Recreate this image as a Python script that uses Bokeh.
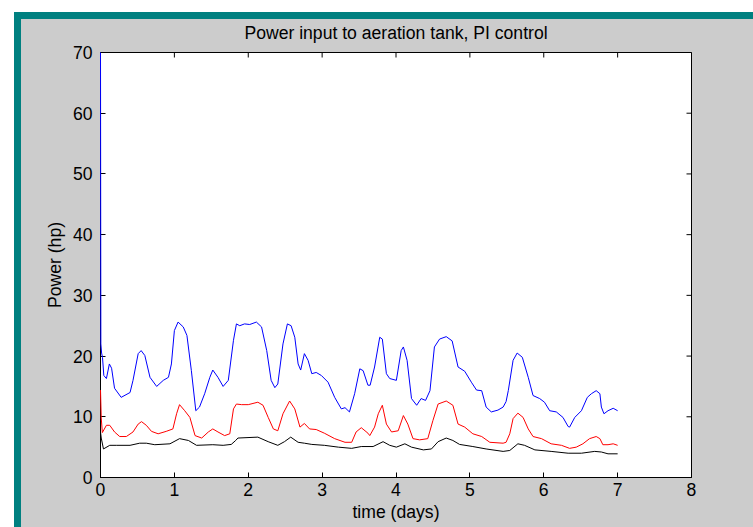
import math
from bokeh.plotting import figure
from bokeh.models import FixedTicker, Range1d
from bokeh.embed import file_html
from bokeh.resources import INLINE

# ---- data ----
blue_t = [0, 0.005, 0.015, 0.027, 0.045, 0.08, 0.12, 0.15, 0.19, 0.28, 0.40, 0.44, 0.51, 0.55,
          0.60, 0.67, 0.76, 0.85, 0.92, 0.96, 1.0, 1.05, 1.12, 1.17, 1.23, 1.29, 1.34, 1.41,
          1.48, 1.52, 1.59, 1.66, 1.73, 1.80, 1.84, 1.885, 1.95, 2.02, 2.11, 2.18, 2.25, 2.31,
          2.36, 2.40, 2.47, 2.53, 2.58, 2.63, 2.675, 2.71, 2.76, 2.81, 2.86, 2.92, 2.99, 3.08,
          3.17, 3.26, 3.31, 3.37, 3.44, 3.51, 3.555, 3.62, 3.65, 3.71, 3.78, 3.815, 3.87, 3.915,
          4.005, 4.07, 4.10, 4.15, 4.21, 4.28, 4.34, 4.40, 4.46, 4.52, 4.59, 4.68, 4.76, 4.84,
          4.93, 5.02, 5.09, 5.16, 5.22, 5.29, 5.38, 5.45, 5.49, 5.52, 5.585, 5.64, 5.71, 5.79,
          5.855, 5.945, 6.01, 6.08, 6.17, 6.26, 6.33, 6.35, 6.42, 6.51, 6.59, 6.645, 6.71, 6.76,
          6.78, 6.815, 6.87, 6.94, 7.0]
blue_v = [70, 22, 20.5, 19.8, 16.8, 16.3, 18.7, 18.0, 14.7, 13.2, 14.0, 16.0, 20.4, 20.9,
          20.1, 16.5, 15.0, 16.0, 16.5, 18.7, 24.2, 25.6, 24.8, 23.4, 17.6, 11.0, 11.6, 13.8,
          16.5, 17.7, 16.5, 15.0, 16.0, 22.6, 25.3, 25.0, 25.3, 25.2, 25.6, 24.8, 20.9, 16.0,
          14.8, 15.4, 22.0, 25.3, 25.0, 23.1, 18.7, 17.7, 20.4, 19.3, 17.1, 17.3, 16.8, 15.7,
          13.2, 11.3, 11.5, 10.8, 13.8, 17.9, 17.6, 15.2, 15.2, 18.2, 23.1, 22.8, 17.1, 16.3,
          16.0, 20.9, 21.5, 19.3, 13.0, 11.9, 13.0, 12.7, 14.3, 21.5, 22.8, 23.2, 22.5, 18.2,
          17.5, 15.7, 14.4, 14.3, 11.6, 10.8, 11.1, 11.6, 12.5, 14.3, 19.3, 20.5, 19.8, 16.5,
          13.5, 13.0, 12.4, 11.0, 10.8, 9.9, 8.4, 8.3, 9.9, 11.0, 13.2, 13.8, 14.3, 13.8,
          11.6, 10.5, 11.0, 11.4, 11.0]

red_t = [0, 0.01, 0.025, 0.08, 0.125, 0.19, 0.26, 0.35, 0.44, 0.51, 0.555, 0.62, 0.69, 0.78,
         0.89, 0.98, 1.03, 1.07, 1.14, 1.21, 1.28, 1.37, 1.46, 1.52, 1.59, 1.68, 1.75, 1.80,
         1.84, 1.91, 2.0, 2.13, 2.20, 2.27, 2.34, 2.40, 2.47, 2.56, 2.63, 2.70, 2.76, 2.83,
         2.92, 3.03, 3.17, 3.31, 3.40, 3.46, 3.53, 3.62, 3.645, 3.71, 3.76, 3.815, 3.87, 3.94,
         4.03, 4.10, 4.16, 4.23, 4.32, 4.43, 4.50, 4.57, 4.68, 4.77, 4.84, 4.93, 5.04, 5.16,
         5.27, 5.45, 5.49, 5.54, 5.585, 5.65, 5.72, 5.79, 5.855, 5.97, 6.10, 6.24, 6.35, 6.44,
         6.53, 6.62, 6.71, 6.76, 6.80, 6.87, 6.94, 7.0]
red_v = [14.4, 9.8, 7.4, 8.6, 8.6, 7.5, 6.75, 6.75, 7.5, 8.8, 9.2, 8.6, 7.6, 7.2,
         7.6, 8.0, 10.5, 12.0, 11.0, 9.9, 6.9, 6.5, 7.5, 8.0, 7.5, 6.9, 7.2, 11.3,
         12.1, 12.0, 12.0, 12.4, 11.9, 9.9, 8.0, 7.7, 10.5, 12.6, 11.3, 8.3, 8.9, 8.0,
         7.9, 7.3, 6.4, 5.8, 5.8, 7.5, 8.2, 7.3, 6.9, 8.3, 10.5, 11.9, 8.8, 7.5,
         7.7, 10.2, 8.8, 6.4, 6.2, 6.4, 9.4, 12.1, 12.6, 11.9, 8.8, 8.3, 7.2, 6.75,
         5.8, 5.65, 5.8, 7.2, 9.7, 10.6, 9.9, 8.0, 6.75, 6.4, 5.55, 5.3, 4.8, 5.0,
         5.55, 6.4, 6.75, 6.4, 5.4, 5.4, 5.55, 5.3]

black_t = [0, 0.01, 0.04, 0.125, 0.22, 0.40, 0.53, 0.62, 0.735, 0.94, 1.07, 1.19, 1.30, 1.52,
           1.66, 1.77, 1.83, 1.86, 2.13, 2.27, 2.40, 2.49, 2.575, 2.675, 2.76, 2.86, 3.03, 3.22,
           3.40, 3.53, 3.69, 3.825, 3.915, 4.005, 4.12, 4.21, 4.37, 4.48, 4.57, 4.68, 4.77, 4.86,
           5.04, 5.22, 5.45, 5.54, 5.65, 5.74, 5.88, 6.10, 6.33, 6.51, 6.69, 6.78, 6.87, 7.0]
black_v = [7.5, 6.5, 4.7, 5.3, 5.3, 5.3, 5.65, 5.65, 5.4, 5.55, 6.4, 6.1, 5.3, 5.4,
           5.3, 5.45, 6.1, 6.5, 6.65, 5.9, 5.3, 5.9, 6.65, 5.8, 5.65, 5.45, 5.3, 5.0,
           4.8, 5.1, 5.1, 5.9, 5.3, 5.0, 5.55, 5.0, 4.55, 4.7, 5.9, 6.5, 6.1, 5.45,
           5.1, 4.7, 4.3, 4.45, 5.55, 5.3, 4.55, 4.3, 4.0, 4.0, 4.3, 4.2, 3.9, 3.9]

x_ticks = [0, 1, 2, 3, 4, 5, 6, 7, 8]
y_ticks = [0, 10, 20, 30, 40, 50, 60, 70]

FONT = "Liberation Sans"
FS = "17.6px"

p = figure(width=753, height=527, output_backend="svg", toolbar_location=None,
           x_range=Range1d(x_ticks[0], x_ticks[-1]), y_range=Range1d(y_ticks[0], y_ticks[-1]),
           min_border_left=100, min_border_right=62, min_border_top=52, min_border_bottom=50,
           x_axis_label="time (days)", y_axis_label="Power (hp)",
           title="Power input to aeration tank, PI control")
# window decoration: white margin, teal border, gray panel (drawn by CSS behind the canvas)
p.border_fill_color = None
p.styles = {
    "background": ("linear-gradient(to bottom, #ffffff 0px, #ffffff 12px, transparent 12px), "
                   "linear-gradient(to right, #ffffff 0px, #ffffff 14px, transparent 14px), "
                   "linear-gradient(to bottom, #008080 0px, #008080 19px, transparent 19px), "
                   "linear-gradient(to right, #008080 0px, #008080 21px, #cccccc 21px)")
}
p.background_fill_color = "white"
p.outline_line_color = "black"
p.outline_line_width = 1
p.grid.visible = False

p.title.align = "center"
p.title.text_font = FONT
p.title.text_font_size = FS
p.title.text_font_style = "normal"
p.title.text_color = "black"
p.title.standoff = 19

for ax in (p.xaxis[0], p.yaxis[0]):
    ax.axis_line_color = "black"
    ax.major_tick_line_color = "black"
    ax.major_tick_in = 5
    ax.major_tick_out = 0
    ax.minor_tick_line_color = None
    ax.major_label_text_font = FONT
    ax.major_label_text_font_size = FS
    ax.major_label_text_color = "black"
    ax.axis_label_text_font = FONT
    ax.axis_label_text_font_size = FS
    ax.axis_label_text_font_style = "normal"
    ax.axis_label_text_color = "black"

p.xaxis[0].ticker = FixedTicker(ticks=x_ticks)
p.yaxis[0].ticker = FixedTicker(ticks=y_ticks)
p.xaxis[0].major_label_standoff = 5
p.xaxis[0].axis_label_standoff = 3
p.yaxis[0].major_label_standoff = 8
p.yaxis[0].axis_label_standoff = 5

# inward tick marks on the top and right edges of the box (half clipped by the frame)
p.scatter(x_ticks, [y_ticks[-1]] * len(x_ticks), marker="dash", size=10,
          angle=math.pi / 2, line_color="black", line_width=1)
p.scatter([x_ticks[-1]] * len(y_ticks), y_ticks, marker="dash", size=10,
          line_color="black", line_width=1)

p.line(blue_t, blue_v, line_color="#0000ff", line_width=1, level="overlay")
p.line(red_t, red_v, line_color="#ff0000", line_width=1, level="overlay")
p.line(black_t, black_v, line_color="black", line_width=1, level="overlay")

open("out.html", "w").write(file_html(p, INLINE))
